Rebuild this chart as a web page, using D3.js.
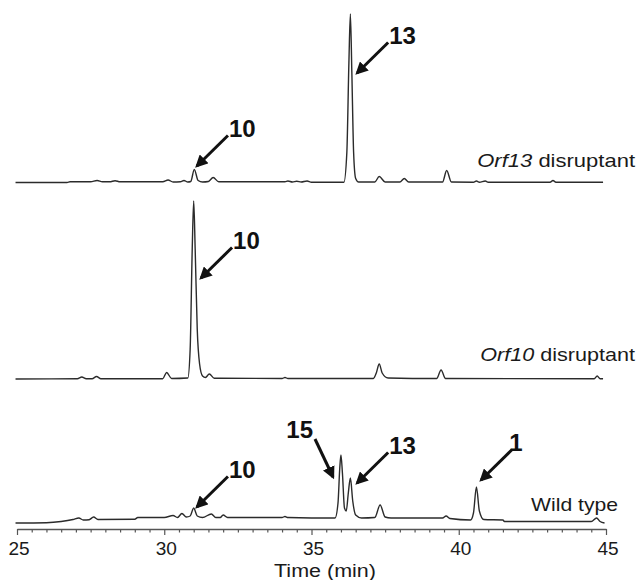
<!DOCTYPE html>
<html><head><meta charset="utf-8">
<script src="https://cdn.jsdelivr.net/npm/d3@7"></script>
<style>
html,body{margin:0;padding:0;background:#fff;}
svg{display:block;font-family:Arial,"Liberation Sans",sans-serif;}
</style></head>
<body>
<svg id="chart" width="639" height="580"></svg>
<script>
// ---- Data (time in min, absorbance in arbitrary units) ----
const traceNames = ["Orf13", "Orf10", "Wild type"];
const orf13Trace = [[24.95,0],[26.7,0],[26.8,0.7],[27.5,0.7],[27.72,2],[27.9,0.7],[28.15,0.7],[28.33,1.8],[28.5,0.7],[29.95,0.7],[30.13,2.5],[30.3,0.5],[30.55,0.7],[30.67,2],[30.8,0.5],[30.9,1],[31.02,13],[31.15,2],[31.3,0.5],[31.5,1],[31.66,5],[31.85,0.7],[34.1,0.7],[34.2,1.5],[34.35,0.5],[34.5,1.3],[34.65,0.5],[34.85,1.5],[35,0.3],[36.1,0.3],[36.2,30],[36.27,120],[36.32,168.5],[36.37,110],[36.43,30],[36.5,4],[36.6,0.5],[37.15,0.5],[37.3,6],[37.5,0.5],[38.0,0.5],[38.15,4],[38.3,0.5],[39.45,0.5],[39.59,12],[39.75,0.5],[40.5,0.3],[40.6,1.5],[40.7,0.3],[40.9,1.5],[41.0,0.3],[43.1,0.3],[43.2,2],[43.3,0.3],[44.9,0.3]];
const orf10Trace = [[24.95,0],[27.05,0.3],[27.2,2],[27.35,0.3],[27.55,0.3],[27.7,2.5],[27.85,0.3],[29.95,0.3],[30.08,6.5],[30.25,0.5],[30.8,1],[30.88,30],[30.95,130],[31.0,178],[31.05,130],[31.12,50],[31.2,15],[31.3,3],[31.4,1.5],[31.53,5],[31.7,0.8],[34.0,0.5],[34.1,1.5],[34.2,0.5],[37.1,0.5],[37.2,6],[37.3,15],[37.4,6],[37.6,1],[39.25,0.5],[39.4,9],[39.55,0.5],[44.6,0.3],[44.7,3],[44.8,0.3],[44.9,0.3]];
const wildTrace = [[24.95,0],[26.0,0.3],[26.5,1.5],[26.9,3.5],[27.1,5],[27.25,3],[27.45,3.3],[27.6,6],[27.75,3.5],[29.0,3.8],[29.1,5.5],[30.0,5.5],[30.3,7.5],[30.45,5.5],[30.6,9.5],[30.75,6],[30.88,7],[31.0,15],[31.12,7],[31.3,5.5],[31.6,9],[31.75,5.5],[31.9,5.5],[32.0,8],[32.15,5.5],[34.0,5.5],[34.1,6.5],[34.2,5.5],[35.8,5],[35.9,20],[35.96,55],[36.0,68],[36.05,50],[36.12,15],[36.18,12],[36.25,30],[36.32,45],[36.4,22],[36.5,8],[36.7,5],[37.15,5.5],[37.33,18],[37.5,6],[37.7,5],[39.45,5],[39.57,7],[39.7,4.5],[40.4,3],[40.5,10],[40.6,36],[40.7,12],[40.85,3.5],[41.5,3],[41.55,1.5],[44.5,1.5],[44.68,5],[44.8,1.5],[44.95,0]];

// peak annotations: trace index, compound label, arrow tip (time, absorbance)
const annTrace = [0, 0, 1, 2, 2, 2, 2];
const annLabel = ["10", "13", "10", "10", "15", "13", "1"];
const annTime  = [31.11, 36.55, 31.25, 31.11, 35.73, 36.55, 40.76];
const annValue = [16.5, 109.5, 101, 16, 46, 40, 43];

const tickValues = d3.range(25, 45.001, 0.5);
const majorTicks = [25, 30, 35, 40, 45];
const xTitle = "Time (min)";

// ---- Layout ----
const svg = d3.select("#chart");
const x = d3.scaleLinear().domain([25, 45]).range([17, 606]);
const baselines = [182.5, 379, 523];
const yScales = baselines.map(b => d3.scaleLinear().domain([0, 170]).range([b, b - 170]));
const traces = [orf13Trace, orf10Trace, wildTrace];

const line = (ys) => d3.line().x(d => x(d[0])).y(d => ys(d[1])).curve(d3.curveMonotoneX);

traces.forEach((tr, i) => {
  svg.append("path").datum(tr)
    .attr("d", line(yScales[i]))
    .attr("fill", "none").attr("stroke", "#2b2b2b")
    .attr("stroke-width", 1.4).attr("stroke-linejoin", "round");
});

// helper: stretch text horizontally to a target width (reference font is wide)
function fitWidth(sel, anchorX, y, width, anchor) {
  const w = sel.node().getBBox().width;
  const s = width / w;
  sel.attr("x", 0).attr("y", 0).attr("text-anchor", anchor)
    .attr("transform", `translate(${anchorX},${y}) scale(${s},1)`);
}

// trace labels
const labelPos = [[635, 166.5, 158], [635, 360.5, 155], [618, 510.5, 87]];
traceNames.forEach((n, i) => {
  const t = svg.append("text").attr("font-size", 17.5).attr("fill", "#1a1a1a");
  if (i < 2) {
    t.append("tspan").attr("font-style", "italic").text(n);
    t.append("tspan").text(" disruptant");
  } else {
    t.text(n);
  }
  fitWidth(t, labelPos[i][0], labelPos[i][1], labelPos[i][2], "end");
});

// arrows
const defs = svg.append("defs");
defs.append("marker").attr("id", "ah").attr("viewBox", "0 0 10 10")
  .attr("refX", 8).attr("refY", 5).attr("markerWidth", 4.2).attr("markerHeight", 4.2)
  .attr("markerUnits", "strokeWidth").attr("orient", "auto")
  .append("path").attr("d", "M0,0 L10,5 L0,10 z").attr("fill", "#111");

annLabel.forEach((lab, k) => {
  const ys = yScales[annTrace[k]];
  const tx = x(annTime[k]), ty = ys(annValue[k]);
  let sx, sy, lx, ly, anchor;
  if (lab === "15") {
    sx = tx - 18; sy = ty - 38; lx = sx - 2; ly = sy - 1; anchor = "end";
  } else {
    sx = tx + 31; sy = ty - 30.5; lx = sx + (lab === "1" ? -3 : 1); ly = sy + 1.5; anchor = "start";
  }
  svg.append("line").attr("x1", sx).attr("y1", sy).attr("x2", tx).attr("y2", ty)
    .attr("stroke", "#111").attr("stroke-width", 3).attr("marker-end", "url(#ah)");
  svg.append("text").attr("x", lx).attr("y", ly).attr("text-anchor", anchor)
    .attr("font-size", 24).attr("font-weight", "bold").attr("fill", "#111").text(lab);
});

// axis
const axisG = svg.append("g").attr("transform", "translate(0,529)")
  .call(d3.axisBottom(x).tickValues(tickValues)
    .tickFormat(d => majorTicks.includes(d) ? d3.format("d")(d) : "")
    .tickSizeOuter(0).tickSizeInner(4).tickPadding(9));
axisG.select(".domain").attr("stroke", "#555").attr("stroke-width", 1.5);
axisG.selectAll(".tick line").attr("stroke", "#555").attr("stroke-width", 1.2)
  .attr("y2", d => majorTicks.includes(d) ? 6 : 3.5);
axisG.selectAll(".tick text").attr("font-size", 18).attr("fill", "#1a1a1a")
  .attr("font-family", "Arial, 'Liberation Sans', sans-serif").attr("dx", 1.5)
  .attr("transform", "scale(1.06,1)")
  .attr("x", function(d){ return 0; });

const title = svg.append("text").attr("font-size", 17.5).attr("fill", "#1a1a1a").text(xTitle);
fitWidth(title, 325, 577, 102, "middle");
</script>
</body></html>
